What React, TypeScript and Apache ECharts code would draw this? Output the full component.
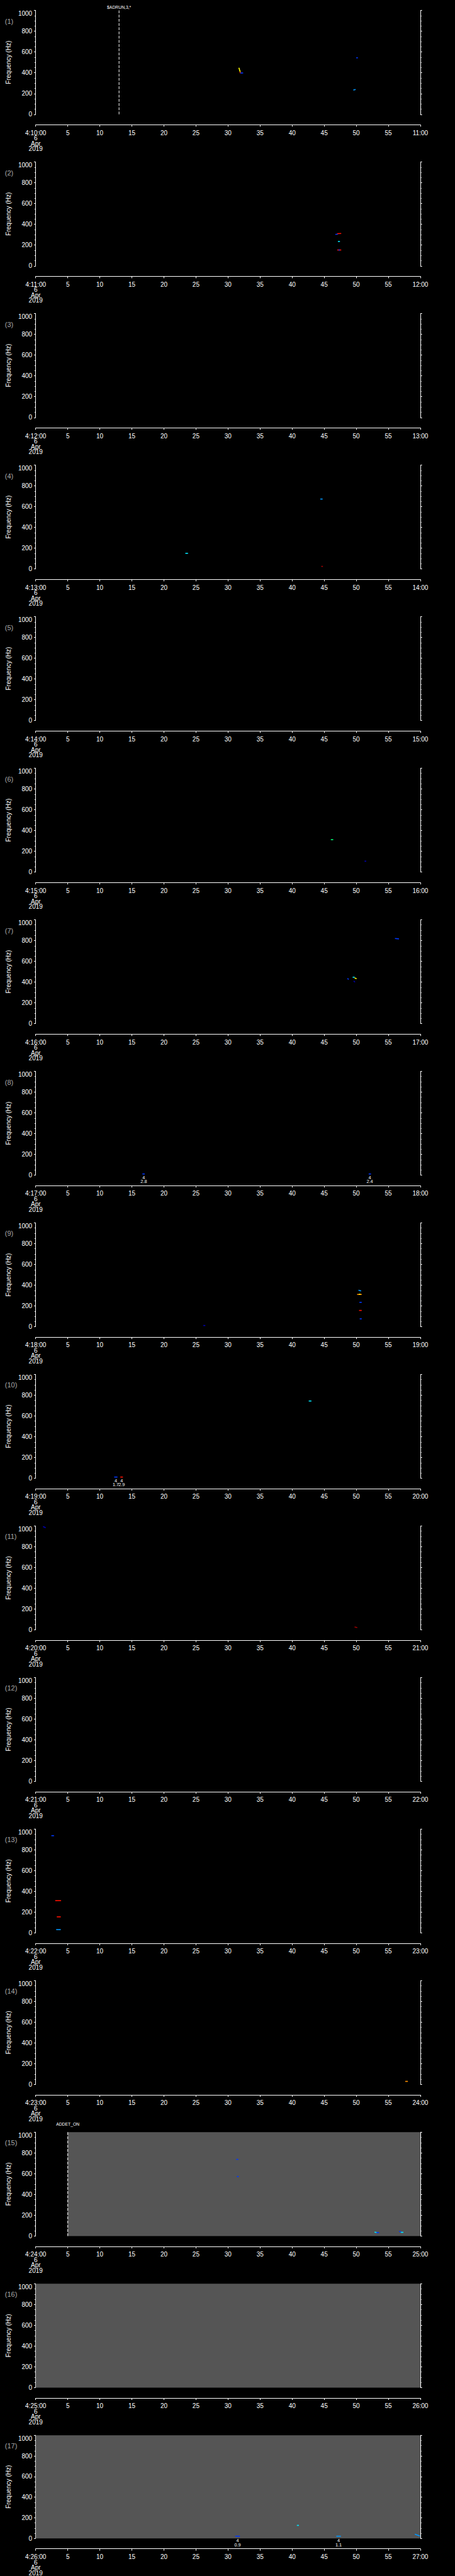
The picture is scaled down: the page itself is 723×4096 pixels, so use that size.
import React, { useEffect, useRef } from 'react';
import * as echarts from 'echarts';

// ---------------- data ----------------
const PANEL_MINUTES = [10, 11, 12, 13, 14, 15, 16, 17, 18, 19, 20, 21, 22, 23, 24, 25, 26];
const HOUR = 4;
const DATE_LINES = ['6', 'Apr', '2019'];
const TIME_MAX = 60;
const TIME_STEP = 5;
const FREQ_MIN = 0;
const FREQ_MAX = 1000;
const FREQ_STEP = 200;
const Y_TITLE = 'Frequency (Hz)';

// colour levels of the spectrogram (low -> high)
const LEVEL_COLORS = ['#0000b0', '#0038ff', '#0098ff', '#00e8ff', '#00ff78', '#ffff00', '#ff9000', '#ff1000', '#a00000'];

// detections: [panel, t0 (s), t1 (s), f0 (Hz), f1 (Hz), level]
const SPOTS: number[][] = [
  [1, 31.75, 31.85, 448, 408, 5],
  [1, 31.88, 31.95, 406, 396, 7],
  [1, 32.0, 32.3, 398, 398, 1],
  [1, 50.05, 50.2, 544, 544, 1],
  [1, 49.6, 49.85, 233, 240, 2],
  [2, 46.8, 47.1, 303, 306, 1],
  [2, 47.1, 47.6, 310, 312, 7],
  [2, 47.2, 47.4, 235, 235, 3],
  [2, 47.1, 47.6, 153, 153, 7],
  [2, 47.3, 47.4, 153, 153, 1],
  [4, 23.4, 23.7, 151, 151, 3],
  [4, 44.45, 44.7, 673, 673, 2],
  [4, 44.6, 44.75, 25, 25, 8],
  [6, 46.1, 46.35, 312, 312, 4],
  [6, 51.35, 51.5, 105, 105, 0],
  [7, 56.1, 56.6, 820, 816, 1],
  [7, 48.7, 48.75, 436, 425, 1],
  [7, 49.5, 49.7, 447, 447, 3],
  [7, 49.8, 50.0, 440, 432, 5],
  [7, 49.65, 49.75, 410, 400, 0],
  [8, 16.7, 16.95, 12, 12, 1],
  [8, 52.0, 52.25, 12, 12, 1],
  [9, 26.2, 26.4, 12, 12, 0],
  [9, 50.4, 50.7, 352, 345, 2],
  [9, 50.2, 50.8, 311, 311, 6],
  [9, 50.5, 50.6, 313, 313, 5],
  [9, 50.55, 50.8, 235, 235, 1],
  [9, 50.5, 50.8, 157, 157, 7],
  [9, 50.6, 50.8, 76, 76, 1],
  [10, 42.65, 42.95, 744, 744, 3],
  [10, 12.3, 12.7, 12, 12, 1],
  [10, 13.25, 13.55, 12, 12, 7],
  [11, 1.2, 1.5, 995, 982, 0],
  [11, 49.8, 50.1, 28, 22, 8],
  [13, 2.5, 2.8, 936, 936, 1],
  [13, 3.1, 3.9, 311, 311, 7],
  [13, 3.35, 3.85, 155, 155, 7],
  [13, 3.25, 3.85, 32, 32, 2],
  [14, 57.7, 58.0, 30, 30, 6],
  [15, 31.35, 31.55, 738, 738, 1],
  [15, 31.45, 31.6, 573, 573, 1],
  [15, 52.9, 53.2, 38, 34, 3],
  [15, 53.2, 53.5, 33, 33, 1],
  [15, 56.75, 57.0, 46, 38, 1],
  [15, 57.0, 57.3, 36, 36, 3],
  [17, 31.2, 31.8, 21, 21, 1],
  [17, 40.8, 41.0, 126, 126, 3],
  [17, 46.95, 47.55, 21, 21, 2],
  [17, 59.2, 59.9, 40, 22, 2],
];

// markers under the time axis: [panel, t (s), upper text, lower text]
const MARKERS: (number | string)[][] = [
  [8, 16.85, '4', '2.8'],
  [8, 52.1, '4', '2.4'],
  [10, 12.5, '4', '1.7'],
  [10, 13.4, '4', '2.9'],
  [17, 31.5, '4', '0.9'],
  [17, 47.25, '4', '1.1'],
];

// events (dashed lines): [panel, t (s), label]
const EVENTS: (number | string)[][] = [
  [1, 13.0, '$ADRUN,3,*'],
  [15, 5.0, 'ADDET_ON'],
];

// gated (grey) intervals: [panel, t0 (s), t1 (s)]
const GATES: number[][] = [
  [15, 5, 60],
  [16, 0, 60],
  [17, 0, 60],
];

// ---------------- layout / style ----------------
const W = 723;
const H = 4096;
const S = 723 / 1024;
const px = (v: number) => v * S;
const PITCH = 341.3;
const PLOT_TOP = 23.5;
const PLOT_BOTTOM = 257.5;
const PLOT_LEFT = 80;
const PLOT_RIGHT = 946;
const TIME_AXIS_Y = 281;
const FONT = "'Liberation Sans', Arial, Helvetica, sans-serif";
const WHITE = '#ffffff';
const GATE_COLOR = '#555555';
const PANEL_LABEL_COLOR = '#a8a8a8';
const EVENT_LABEL_LIFT = [7.8, 17.9]; // reference px above plot top, per event

const pad2 = (n: number) => (n < 10 ? '0' + n : String(n));

function buildOption() {
  const grid: any[] = [];
  const xAxis: any[] = [];
  const yAxis: any[] = [];
  const series: any[] = [];
  const graphic: any[] = [];

  PANEL_MINUTES.forEach((minute, i) => {
    const top = px(PLOT_TOP + i * PITCH);
    grid.push({
      left: px(PLOT_LEFT),
      top,
      width: px(PLOT_RIGHT - PLOT_LEFT),
      height: px(PLOT_BOTTOM - PLOT_TOP),
      show: false,
    });
    xAxis.push({
      gridIndex: i,
      type: 'value',
      min: 0,
      max: TIME_MAX,
      interval: TIME_STEP,
      position: 'bottom',
      offset: px(TIME_AXIS_Y - PLOT_BOTTOM),
      axisLine: { show: true, onZero: false, lineStyle: { color: WHITE, width: 1 } },
      axisTick: { show: true, length: 3, lineStyle: { color: WHITE, width: 1 } },
      splitLine: { show: false },
      axisLabel: {
        show: true,
        color: WHITE,
        fontSize: 10,
        fontFamily: FONT,
        lineHeight: 8.5,
        margin: 8.5,
        showMinLabel: true,
        showMaxLabel: true,
        hideOverlap: false,
        formatter: (v: number) => {
          if (v === 0) return `${HOUR}:${pad2(minute)}:00\n${DATE_LINES.join('\n')}`;
          if (v === TIME_MAX) return `${pad2(minute + 1)}:00`;
          return String(v);
        },
      },
    });
    const yCommon = {
      gridIndex: i,
      type: 'value',
      min: FREQ_MIN,
      max: FREQ_MAX,
      interval: FREQ_STEP,
      axisLine: { show: true, onZero: false, lineStyle: { color: WHITE, width: 1 } },
      axisTick: { show: true, length: 2.8, lineStyle: { color: WHITE, width: 1 } },
      minorTick: { show: true, splitNumber: 4, length: 1.8, lineStyle: { color: WHITE, width: 1 } },
      splitLine: { show: false },
      minorSplitLine: { show: false },
    };
    yAxis.push({
      ...yCommon,
      position: 'left',
      name: Y_TITLE,
      nameLocation: 'middle',
      nameGap: 35,
      nameTextStyle: { color: WHITE, fontSize: 10, fontFamily: FONT },
      axisLabel: {
        show: true,
        color: WHITE,
        fontSize: 10,
        fontFamily: FONT,
        margin: 5.6,
        showMinLabel: true,
        showMaxLabel: true,
        verticalAlignMaxLabel: 'top',
        formatter: (v: number) => String(v),
      },
    });
    yAxis.push({
      ...yCommon,
      position: 'right',
      axisLabel: { show: false },
    });

    graphic.push({
      type: 'text',
      x: px(11),
      y: px(47.7 + i * PITCH),
      style: {
        text: `(${i + 1})`,
        fill: PANEL_LABEL_COLOR,
        fontSize: 11,
        fontFamily: FONT,
        align: 'left',
        textAlign: 'left',
        verticalAlign: 'middle',
        textVerticalAlign: 'middle',
      },
    });

    const panelNo = i + 1;
    const xIdx = i;
    const yIdx = 2 * i;

    // grey gated interval
    const gates = GATES.filter((g) => g[0] === panelNo).map((g) => [g[1], g[2]]);
    if (gates.length) {
      series.push({
        type: 'custom',
        xAxisIndex: xIdx,
        yAxisIndex: yIdx,
        z: 1,
        silent: true,
        data: gates,
        renderItem: (_p: any, api: any) => {
          const a = api.coord([api.value(0), FREQ_MAX]);
          const b = api.coord([api.value(1), FREQ_MIN]);
          return {
            type: 'rect',
            shape: { x: a[0], y: a[1], width: b[0] - a[0], height: b[1] - a[1] },
            style: { fill: GATE_COLOR },
          };
        },
      });
    }

    // events
    const evs = EVENTS.map((e, k) => ({ e, k })).filter(({ e }) => e[0] === panelNo);
    if (evs.length) {
      series.push({
        type: 'custom',
        xAxisIndex: xIdx,
        yAxisIndex: yIdx,
        z: 4,
        silent: true,
        clip: false,
        data: evs.map(({ e }) => [e[1] as number, FREQ_MAX]),
        renderItem: (p: any, api: any) => {
          const { e, k } = evs[p.dataIndex];
          const a = api.coord([api.value(0), FREQ_MAX]);
          const b = api.coord([api.value(0), FREQ_MIN]);
          return {
            type: 'group',
            children: [
              {
                type: 'line',
                shape: { x1: a[0], y1: a[1], x2: b[0], y2: b[1] },
                style: { stroke: WHITE, lineWidth: 1, lineDash: [4.5, 2.2] },
              },
              {
                type: 'text',
                x: a[0],
                y: a[1] - px(EVENT_LABEL_LIFT[k]),
                style: {
                  text: String(e[2]),
                  fill: WHITE,
                  fontSize: 6.8,
                  fontFamily: FONT,
                  align: 'center',
                  textAlign: 'center',
                  verticalAlign: 'middle',
                  textVerticalAlign: 'middle',
                },
              },
            ],
          };
        },
      });
    }

    // spots
    const spots = SPOTS.filter((s) => s[0] === panelNo).map((s) => s.slice(1));
    if (spots.length) {
      series.push({
        type: 'custom',
        xAxisIndex: xIdx,
        yAxisIndex: yIdx,
        z: 3,
        silent: true,
        clip: false,
        data: spots,
        renderItem: (_p: any, api: any) => {
          const a = api.coord([api.value(0), api.value(2)]);
          const b = api.coord([api.value(1), api.value(3)]);
          return {
            type: 'line',
            shape: { x1: a[0] - 0.6, y1: a[1], x2: b[0] + 0.6, y2: b[1] },
            style: { stroke: LEVEL_COLORS[api.value(4)], lineWidth: 1.6 },
          };
        },
      });
    }

    // markers below axis
    const marks = MARKERS.filter((m) => m[0] === panelNo);
    if (marks.length) {
      series.push({
        type: 'custom',
        xAxisIndex: xIdx,
        yAxisIndex: yIdx,
        z: 4,
        silent: true,
        clip: false,
        data: marks.map((m) => [m[1] as number, FREQ_MIN]),
        renderItem: (p: any, api: any) => {
          const m = marks[p.dataIndex];
          const a = api.coord([api.value(0), FREQ_MIN]);
          const txt = (t: string, dy: number) => ({
            type: 'text',
            x: a[0],
            y: a[1] + dy,
            style: {
              text: t,
              fill: WHITE,
              fontSize: 7.3,
              fontFamily: FONT,
              align: 'center',
              textAlign: 'center',
              verticalAlign: 'middle',
              textVerticalAlign: 'middle',
            },
          });
          return {
            type: 'group',
            children: [txt(String(m[2]), px(5)), txt(String(m[3]), px(14.5))],
          };
        },
      });
    }
  });

  return {
    animation: false,
    backgroundColor: '#000000',
    textStyle: { fontFamily: FONT },
    grid,
    xAxis,
    yAxis,
    series,
    graphic,
  };
}

export default function App() {
  const ref = useRef<HTMLDivElement>(null);
  useEffect(() => {
    document.body.style.margin = '0';
    document.body.style.background = '#000';
    const chart = echarts.init(ref.current as HTMLDivElement, null, { renderer: 'svg' });
    chart.setOption(buildOption() as any);
    return () => chart.dispose();
  }, []);
  return <div ref={ref} style={{ width: W, height: H }} />;
}
